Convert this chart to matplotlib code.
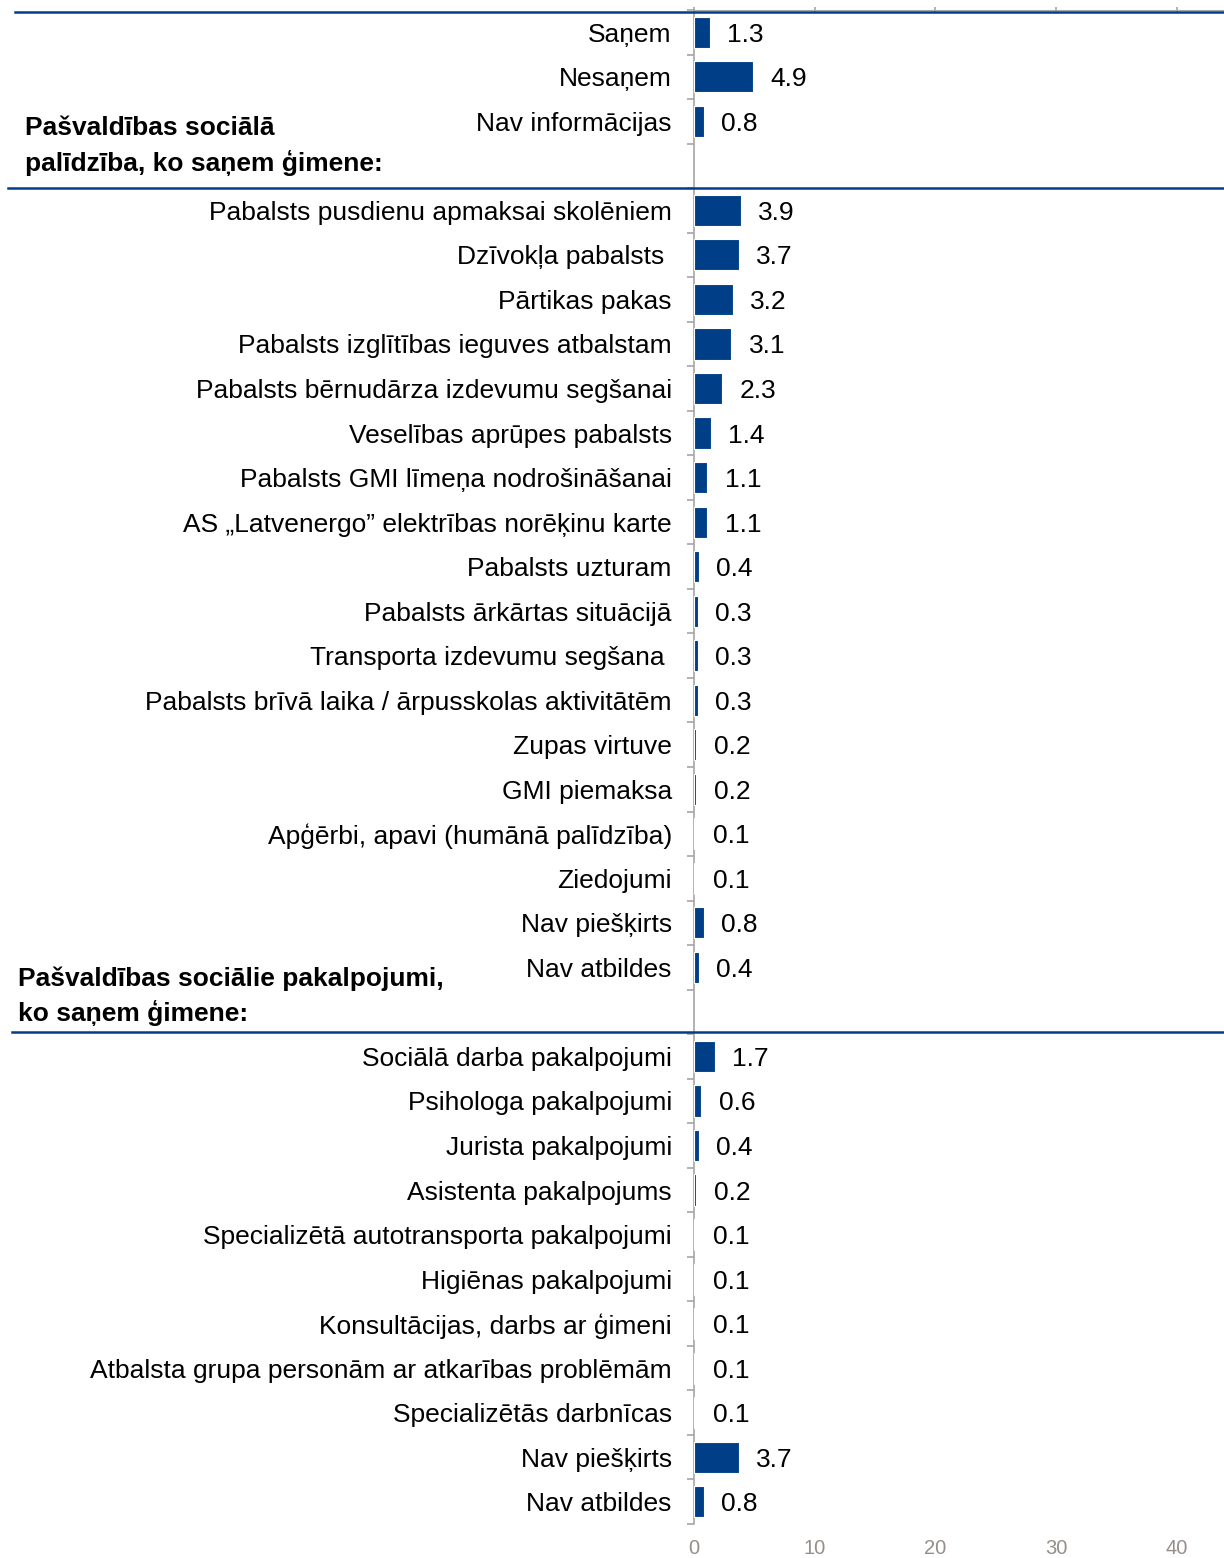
import matplotlib.pyplot as plt
from matplotlib.transforms import blended_transform_factory

plt.rcParams["font.family"] = ["Liberation Sans", "DejaVu Sans"]

BLUE = "#003f87"
GRAY = "#a6a6a6"

# section 1: family receives / does not receive
support_labels = ["Saņem", "Nesaņem", "Nav informācijas"]
support_values = [1.3, 4.9, 0.8]

# section 2: municipal social assistance
aid_labels = [
    "Pabalsts pusdienu apmaksai skolēniem",
    "Dzīvokļa pabalsts ",
    "Pārtikas pakas",
    "Pabalsts izglītības ieguves atbalstam",
    "Pabalsts bērnudārza izdevumu segšanai",
    "Veselības aprūpes pabalsts",
    "Pabalsts GMI līmeņa nodrošināšanai",
    "AS „Latvenergo” elektrības norēķinu karte",
    "Pabalsts uzturam",
    "Pabalsts ārkārtas situācijā",
    "Transporta izdevumu segšana ",
    "Pabalsts brīvā laika / ārpusskolas aktivitātēm",
    "Zupas virtuve",
    "GMI piemaksa",
    "Apģērbi, apavi (humānā palīdzība)",
    "Ziedojumi",
    "Nav piešķirts",
    "Nav atbildes",
]
aid_values = [3.9, 3.7, 3.2, 3.1, 2.3, 1.4, 1.1, 1.1, 0.4, 0.3, 0.3, 0.3,
              0.2, 0.2, 0.1, 0.1, 0.8, 0.4]

# section 3: municipal social services
service_labels = [
    "Sociālā darba pakalpojumi",
    "Psihologa pakalpojumi",
    "Jurista pakalpojumi",
    "Asistenta pakalpojums",
    "Specializētā autotransporta pakalpojumi",
    "Higiēnas pakalpojumi",
    "Konsultācijas, darbs ar ģimeni",
    "Atbalsta grupa personām ar atkarības problēmām",
    "Specializētās darbnīcas",
    "Nav piešķirts",
    "Nav atbildes",
]
service_values = [1.7, 0.6, 0.4, 0.2, 0.1, 0.1, 0.1, 0.1, 0.1, 3.7, 0.8]

x_ticks = [0, 10, 20, 30, 40]

# one empty row after each of the first two sections
labels = support_labels + [""] + aid_labels + [""] + service_labels
values = support_values + [None] + aid_values + [None] + service_values
rows = list(range(len(labels)))

FS = 19

fig = plt.figure(figsize=(12.24, 15.58), dpi=100)
ax = fig.add_axes([694 / 1224, 34 / 1558, 1 - 694 / 1224, 1 - 44 / 1558])

bar_rows = [r for r, v in zip(rows, values) if v is not None]
bar_vals = [v for v in values if v is not None]
ax.barh(bar_rows, bar_vals, height=0.7, color=BLUE, edgecolor="white",
        linewidth=0.8, zorder=3)
for r, v in zip(bar_rows, bar_vals):
    ax.annotate(f"{v:.1f}", (v, r), xytext=(12.5, 0), textcoords="offset points",
                ha="left", va="center_baseline", fontsize=FS, color="black")

ax.set_xlim(0, 43.9)
ax.set_ylim(len(labels) - 0.5, -0.5)

ax.set_yticks(rows)
ax.set_yticklabels(labels, fontsize=FS)
ax.set_yticks([r + 0.5 for r in range(-1, len(labels))], minor=True)
ax.tick_params(axis="y", which="major", length=0, pad=16)
ax.tick_params(axis="y", which="minor", length=5, width=1.2, color=GRAY)

ax.set_xticks(x_ticks)
ax.tick_params(axis="x", bottom=False, labelbottom=True, top=True, labeltop=False,
               direction="inout", length=5, width=1.2, color=GRAY,
               labelsize=14.5, labelcolor="#978e89", pad=8)

for side in ("right", "bottom"):
    ax.spines[side].set_visible(False)
ax.spines["left"].set_color(GRAY)
ax.spines["left"].set_linewidth(1.2)
ax.spines["top"].set_color(GRAY)

# section separators run across the whole figure
trans = blended_transform_factory(fig.transFigure, ax.transData)
for y, x0 in [(-0.45, 15 / 1224), (3.5, 8 / 1224), (22.45, 12 / 1224)]:
    ax.plot([x0, 1.0], [y, y], color=BLUE, lw=1.8, transform=trans,
            clip_on=False, zorder=5)

ax.text(25 / 1224, 2.55, "Pašvaldības sociālā\npalīdzība, ko saņem ģimene:",
        transform=trans, ha="left", va="center", fontsize=FS,
        fontweight="bold", linespacing=1.45)
ax.text(18 / 1224, 21.65, "Pašvaldības sociālie pakalpojumi,\nko saņem ģimene:",
        transform=trans, ha="left", va="center", fontsize=FS,
        fontweight="bold", linespacing=1.45)

fig.savefig("out.png", dpi=100)
